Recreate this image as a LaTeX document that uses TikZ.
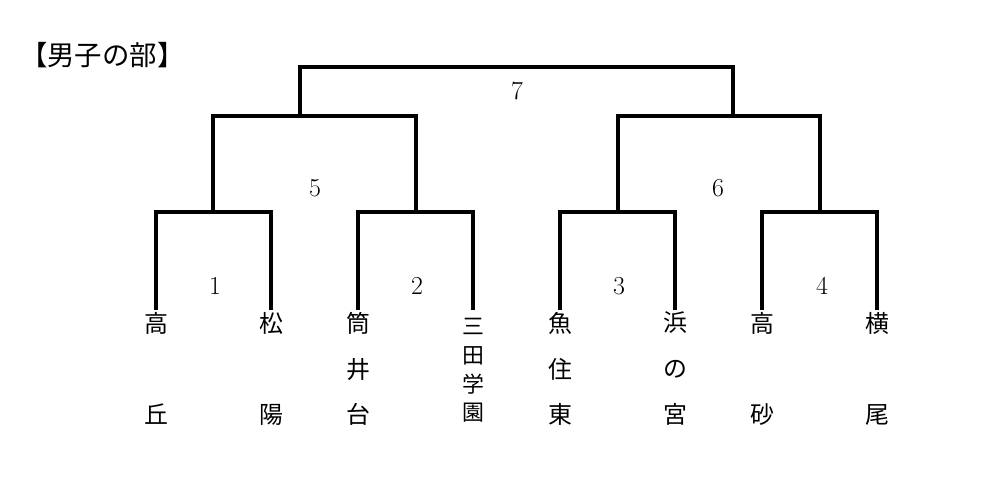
\documentclass[tikz,border=0pt]{standalone}
\usepackage{fontspec}
\newfontfamily\cjk{Noto Sans CJK JP}
\begin{document}
\begin{tikzpicture}[x=1bp,y=-1bp,
  bline/.style={line width=3.1bp, line join=miter, line cap=rect},
  team/.style={anchor=north, align=center, inner xsep=0pt, inner ysep=4bp, outer sep=0pt,
    font=\cjk\fontsize{24}{46}\selectfont},
  team4/.style={anchor=north, align=center, inner xsep=0pt, inner ysep=10bp, outer sep=0pt,
    font=\cjk\fontsize{22}{29}\selectfont},
  num/.style={font=\fontsize{26}{26}\selectfont, inner sep=0pt}]
\useasboundingbox (0,0) rectangle (1005,483);
\node[anchor=west, inner sep=0pt, font=\cjk\fontsize{27.5}{27.5}\selectfont] (title) at (20,55) {【男子の部】};
% teams
\node[team] (t1) at (156,308) {高\\[46bp]丘};
\node[team] (t2) at (271,308) {松\\[46bp]陽};
\node[team] (t3) at (358,308) {筒\\井\\台};
\node[team4] (t4) at (473,308) {三\\田\\学\\園};
\node[team] (t5) at (560,308) {魚\\住\\東};
\node[team] (t6) at (675,308) {浜\\の\\宮};
\node[team] (t7) at (762,308) {高\\[46bp]砂};
\node[team] (t8) at (877,308) {横\\[46bp]尾};
% junctions
\coordinate (j1) at (213,212);
\coordinate (j2) at (416,212);
\coordinate (j3) at (618,212);
\coordinate (j4) at (820,212);
\coordinate (j5) at (300,116);
\coordinate (j6) at (733,116);
\coordinate (j7) at (517,67);
% brackets
\draw[bline] (t1.north) |- (j1) -| (t2.north);
\draw[bline] (t3.north) |- (j2) -| (t4.north);
\draw[bline] (t5.north) |- (j3) -| (t6.north);
\draw[bline] (t7.north) |- (j4) -| (t8.north);
\draw[bline] (j1) |- (j5) -| (j2);
\draw[bline] (j3) |- (j6) -| (j4);
\draw[bline] (j5) |- (j7) -| (j6);
% match numbers
\node[num] (n1) at (215,286) {1};
\node[num] (n2) at (417,286) {2};
\node[num] (n3) at (619,286) {3};
\node[num] (n4) at (822,286) {4};
\node[num] (n5) at (315,188) {5};
\node[num] (n6) at (718,188) {6};
\node[num] (n7) at (517,91) {7};
\end{tikzpicture}
\end{document}
